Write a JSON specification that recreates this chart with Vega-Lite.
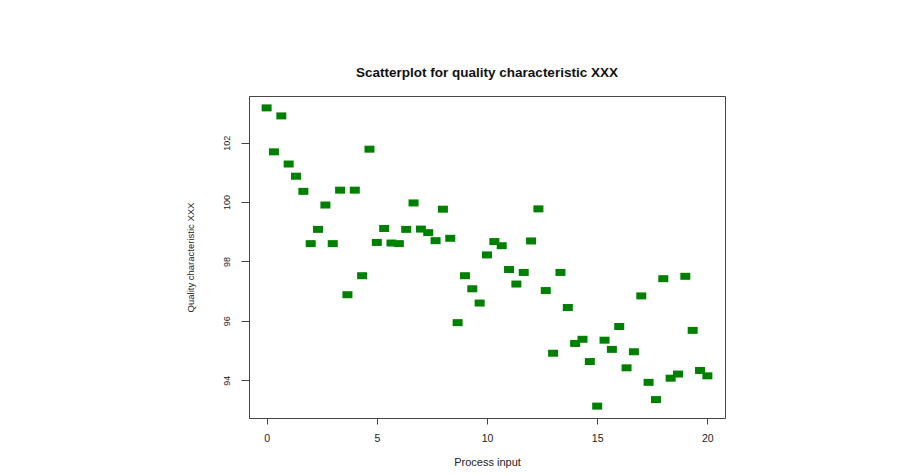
{
  "$schema": "https://vega.github.io/schema/vega-lite/v6.json",
  "autosize": {"type": "none"},
  "padding": {"left": 249, "top": 96, "right": 197, "bottom": 56},
  "width": 476,
  "height": 322,
  "background": "white",
  "title": {
    "text": "Scatterplot for quality characteristic XXX",
    "anchor": "middle",
    "font": "Liberation Sans",
    "fontSize": 13.5,
    "fontWeight": "bold",
    "color": "#111",
    "baseline": "alphabetic",
    "offset": 6
  },
  "config": {
    "view": {"stroke": "#444", "strokeWidth": 1},
    "axis": {
      "labelFont": "Liberation Sans",
      "titleFont": "Liberation Sans",
      "labelColor": "#222",
      "titleColor": "#222",
      "titleFontWeight": "normal",
      "grid": false,
      "domain": false,
      "tickColor": "#444"
    }
  },
  "data": {
    "values": [
      {"input": 0, "quality": 103.17},
      {"input": 0.333, "quality": 101.69},
      {"input": 0.667, "quality": 102.9},
      {"input": 1, "quality": 101.28},
      {"input": 1.333, "quality": 100.87},
      {"input": 1.667, "quality": 100.36},
      {"input": 2, "quality": 98.6},
      {"input": 2.333, "quality": 99.08},
      {"input": 2.667, "quality": 99.9},
      {"input": 3, "quality": 98.6},
      {"input": 3.333, "quality": 100.4},
      {"input": 3.667, "quality": 96.88},
      {"input": 4, "quality": 100.4},
      {"input": 4.333, "quality": 97.52},
      {"input": 4.667, "quality": 101.78},
      {"input": 5, "quality": 98.64},
      {"input": 5.333, "quality": 99.11},
      {"input": 5.667, "quality": 98.62},
      {"input": 6, "quality": 98.6},
      {"input": 6.333, "quality": 99.08},
      {"input": 6.667, "quality": 99.97},
      {"input": 7, "quality": 99.09},
      {"input": 7.333, "quality": 98.97},
      {"input": 7.667, "quality": 98.7},
      {"input": 8, "quality": 99.76},
      {"input": 8.333, "quality": 98.78},
      {"input": 8.667, "quality": 95.94},
      {"input": 9, "quality": 97.52},
      {"input": 9.333, "quality": 97.08},
      {"input": 9.667, "quality": 96.6},
      {"input": 10, "quality": 98.22},
      {"input": 10.333, "quality": 98.67},
      {"input": 10.667, "quality": 98.53},
      {"input": 11, "quality": 97.73},
      {"input": 11.333, "quality": 97.24},
      {"input": 11.667, "quality": 97.63},
      {"input": 12, "quality": 98.69},
      {"input": 12.333, "quality": 99.77},
      {"input": 12.667, "quality": 97.02},
      {"input": 13, "quality": 94.91},
      {"input": 13.333, "quality": 97.63},
      {"input": 13.667, "quality": 96.45},
      {"input": 14, "quality": 95.24},
      {"input": 14.333, "quality": 95.38},
      {"input": 14.667, "quality": 94.63},
      {"input": 15, "quality": 93.13},
      {"input": 15.333, "quality": 95.35},
      {"input": 15.667, "quality": 95.04},
      {"input": 16, "quality": 95.81},
      {"input": 16.333, "quality": 94.42},
      {"input": 16.667, "quality": 94.96},
      {"input": 17, "quality": 96.84},
      {"input": 17.333, "quality": 93.93},
      {"input": 17.667, "quality": 93.35},
      {"input": 18, "quality": 97.42},
      {"input": 18.333, "quality": 94.07},
      {"input": 18.667, "quality": 94.21},
      {"input": 19, "quality": 97.5},
      {"input": 19.333, "quality": 95.68},
      {"input": 19.667, "quality": 94.33},
      {"input": 20, "quality": 94.15}
    ]
  },
  "mark": {
    "type": "point",
    "shape": "M-1,-0.7H1V0.7H-1Z",
    "size": 100,
    "filled": true,
    "opacity": 1,
    "color": "#008000",
    "strokeWidth": 0
  },
  "encoding": {
    "x": {
      "field": "input",
      "type": "quantitative",
      "scale": {"domain": [-0.8, 20.8], "nice": false, "zero": false},
      "axis": {
        "title": "Process input",
        "values": [0, 5, 10, 15, 20],
        "format": "d",
        "labelFontSize": 10.5,
        "titleFontSize": 11,
        "tickSize": 6,
        "labelPadding": 9,
        "titlePadding": 13,
        "labelFlush": false
      }
    },
    "y": {
      "field": "quality",
      "type": "quantitative",
      "scale": {"domain": [92.73, 103.57], "nice": false, "zero": false},
      "axis": {
        "title": "Quality characteristic XXX",
        "values": [94, 96, 98, 100, 102],
        "format": "d",
        "labelAngle": -90,
        "labelAlign": "center",
        "labelBaseline": "bottom",
        "labelFontSize": 9,
        "titleFontSize": 9.5,
        "tickSize": 8,
        "labelPadding": 10,
        "titlePadding": 27,
        "labelFlush": false
      }
    }
  }
}
